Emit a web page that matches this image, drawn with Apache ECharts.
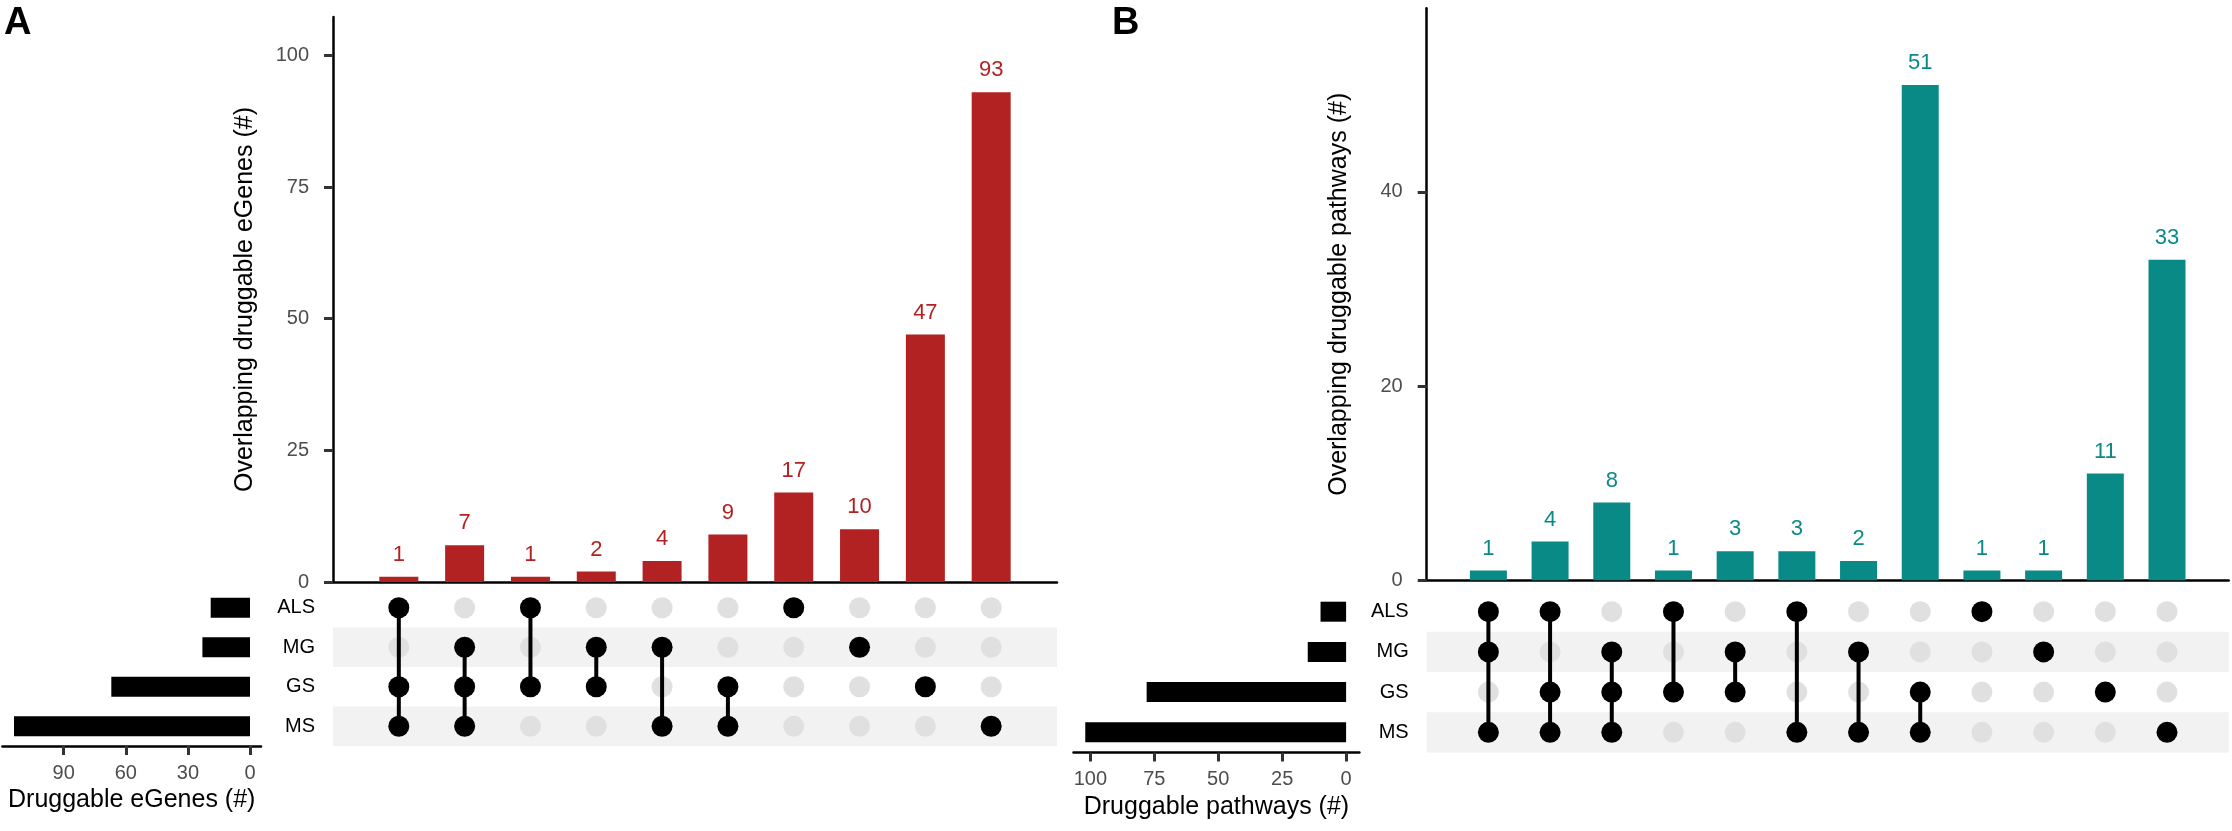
<!DOCTYPE html>
<html>
<head>
<meta charset="utf-8">
<title>Druggable eGenes and pathways - UpSet</title>
<script src="https://cdn.jsdelivr.net/npm/echarts@6/dist/echarts.min.js"></script>
<style>
  html, body { margin: 0; padding: 0; background: #fff; }
  #main { width: 2232px; height: 831px; }
</style>
</head>
<body>
<div id="main"></div>
<script>
var sets = ['ALS', 'MG', 'GS', 'MS'];

// A: druggable eGenes
var countsA = [1, 7, 1, 2, 4, 9, 17, 10, 47, 93];
var membersA = [
  ['ALS', 'GS', 'MS'], ['MG', 'GS', 'MS'], ['ALS', 'GS'], ['MG', 'GS'], ['MG', 'MS'],
  ['GS', 'MS'], ['ALS'], ['MG'], ['GS'], ['MS']
];
var setSizeA = [19, 23, 67, 114];
var ticksA = [0, 25, 50, 75, 100];
var sizeTicksA = [0, 30, 60, 90];

// B: druggable pathways
var countsB = [1, 4, 8, 1, 3, 3, 2, 51, 1, 1, 11, 33];
var membersB = [
  ['ALS', 'MG', 'MS'], ['ALS', 'GS', 'MS'], ['MG', 'GS', 'MS'], ['ALS', 'GS'], ['MG', 'GS'],
  ['ALS', 'MS'], ['MG', 'MS'], ['GS', 'MS'], ['ALS'], ['MG'], ['GS'], ['MS']
];
var setSizeB = [10, 15, 78, 102];
var ticksB = [0, 20, 40];
var sizeTicksB = [0, 25, 50, 75, 100];

var FONT = 'Liberation Sans, Arial, Helvetica, sans-serif';
var option = {
  animation: false,
  backgroundColor: '#fff',
  textStyle: { fontFamily: FONT },
  grid: [], xAxis: [], yAxis: [], series: [],
  graphic: [
    { type: 'text', left: 4, top: 5, style: { text: 'A', font: 'bold 38px ' + FONT, fill: '#000' } },
    { type: 'text', left: 1112, top: 5, style: { text: 'B', font: 'bold 38px ' + FONT, fill: '#000' } }
  ]
};

// one upset panel = bar grid + matrix grid + set size grid
function addPanel(p) {
  var g = option.grid.length;
  option.grid.push(p.bars, p.matrix, p.size);

  // intersection bars
  option.xAxis.push({
    gridIndex: g, type: 'value', min: 0, max: p.counts.length + 1,
    axisLine: { show: true, lineStyle: { color: '#000', width: 2.5 } },
    axisTick: { show: false }, axisLabel: { show: false }, splitLine: { show: false }
  });
  option.yAxis.push({
    gridIndex: g, type: 'value', min: 0, max: p.yMax,
    name: p.yName, nameLocation: 'middle', nameGap: 75,
    nameTextStyle: { color: '#000', fontSize: 25 },
    axisLine: { show: true, lineStyle: { color: '#000', width: 2.5 } },
    axisTick: { show: true, length: 9, customValues: p.ticks, lineStyle: { color: '#333', width: 3 } },
    axisLabel: { customValues: p.ticks, color: '#4d4d4d', fontSize: 20, margin: 24 },
    splitLine: { show: false }
  });
  option.series.push({
    type: 'bar', xAxisIndex: g, yAxisIndex: g, barWidth: p.barWidth,
    data: p.counts.map(function (v, i) { return [i + 1, v]; }),
    itemStyle: { color: p.color },
    label: { show: true, position: 'top', distance: 11, color: p.color, fontSize: 22,
      formatter: function (e) { return e.value[1]; } }
  });

  // matrix
  option.xAxis.push({ gridIndex: g + 1, type: 'value', min: 0, max: p.counts.length + 1, show: false });
  option.yAxis.push({
    gridIndex: g + 1, type: 'category', data: sets, inverse: true,
    axisLine: { show: false }, axisTick: { show: false },
    axisLabel: { color: '#000', fontSize: 20, margin: 18 },
    splitLine: { show: false },
    splitArea: { show: true, areaStyle: { color: ['rgba(0,0,0,0)', '#f2f2f2'] } }
  });
  var off = [], on = [];
  p.members.forEach(function (m, i) {
    var rows = [];
    sets.forEach(function (s, r) {
      if (m.indexOf(s) >= 0) { on.push([i + 1, r]); rows.push(r); }
      else off.push([i + 1, r]);
    });
    if (rows.length > 1) {
      option.series.push({
        type: 'line', xAxisIndex: g + 1, yAxisIndex: g + 1, z: 3, symbol: 'none',
        data: [[i + 1, Math.min.apply(null, rows)], [i + 1, Math.max.apply(null, rows)]],
        lineStyle: { color: '#000', width: 4 }
      });
    }
  });
  option.series.push({
    type: 'scatter', xAxisIndex: g + 1, yAxisIndex: g + 1, z: 2, symbolSize: 21,
    data: off, itemStyle: { color: '#e0e0e0', opacity: 1 }
  });
  option.series.push({
    type: 'scatter', xAxisIndex: g + 1, yAxisIndex: g + 1, z: 4, symbolSize: 21,
    data: on, itemStyle: { color: '#000', opacity: 1 }
  });

  // set sizes
  option.xAxis.push({
    gridIndex: g + 2, type: 'value', inverse: true, min: p.sizeMin, max: p.sizeMax,
    name: p.sizeName, nameLocation: 'middle', nameGap: 42,
    nameTextStyle: { color: '#000', fontSize: 25 },
    axisLine: { show: true, lineStyle: { color: '#000', width: 2.5 } },
    axisTick: { show: true, length: 9, customValues: p.sizeTicks, lineStyle: { color: '#333', width: 3 } },
    axisLabel: { customValues: p.sizeTicks, color: '#4d4d4d', fontSize: 20, margin: 17 },
    splitLine: { show: false }
  });
  option.yAxis.push({ gridIndex: g + 2, type: 'category', data: sets, inverse: true, show: false });
  option.series.push({
    type: 'bar', xAxisIndex: g + 2, yAxisIndex: g + 2, barWidth: 20,
    data: p.setSize, itemStyle: { color: '#000' }
  });
}

addPanel({
  counts: countsA, members: membersA, setSize: setSizeA, ticks: ticksA, sizeTicks: sizeTicksA,
  color: '#b22222', yMax: 107.3, barWidth: 39, sizeMin: -5.3, sizeMax: 119.6,
  yName: 'Overlapping druggable eGenes (#)', sizeName: 'Druggable eGenes (#)',
  bars: { left: 333, top: 17, width: 724, height: 565 },
  matrix: { left: 333, top: 588, width: 724, height: 158 },
  size: { left: 2.4, top: 588, width: 258.6, height: 158 }
});
addPanel({
  counts: countsB, members: membersB, setSize: setSizeB, ticks: ticksB, sizeTicks: sizeTicksB,
  color: '#0a8a86', yMax: 58.9, barWidth: 37, sizeMin: -5.2, sizeMax: 106.6,
  yName: 'Overlapping druggable pathways (#)', sizeName: 'Druggable pathways (#)',
  bars: { left: 1426.7, top: 8.3, width: 802, height: 572 },
  matrix: { left: 1426.7, top: 591.6, width: 802, height: 160.8 },
  size: { left: 1073.5, top: 591.6, width: 285.9, height: 160.8 }
});

var myChart = echarts.init(document.getElementById('main'));
myChart.setOption(option);
window.addEventListener('resize', function () {
  myChart.resize();
});
</script>
</body>
</html>
